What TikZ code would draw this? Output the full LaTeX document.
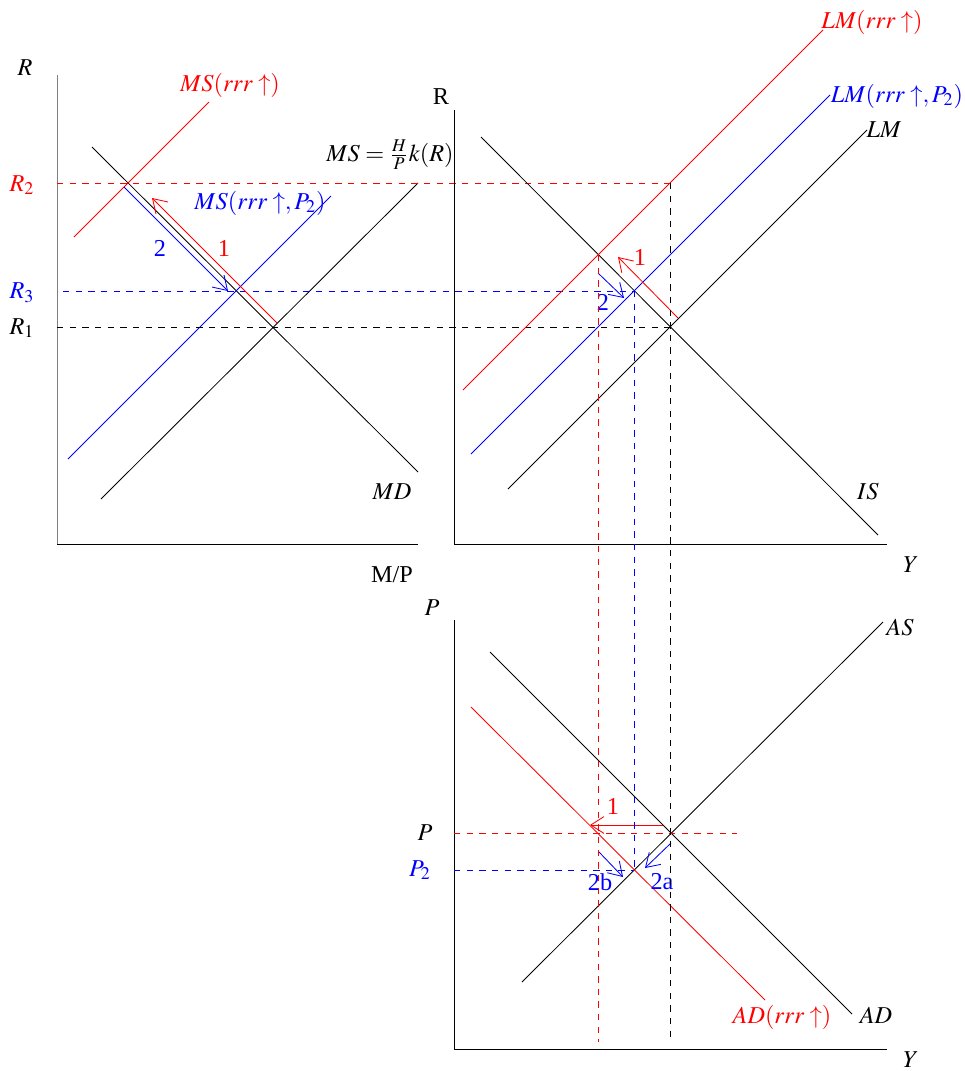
\documentclass[tikz,border=0pt]{standalone}
\usepackage{mathptmx}
\usepackage{fontspec}
\setmainfont{Liberation Serif}
\usetikzlibrary{calc, arrows.meta}

\begin{document}
\begin{tikzpicture}[
  x=0.16667cm, y=-0.16667cm,
  font=\fontsize{11.5}{14}\selectfont,
  guide/.style={dashed},
  move/.style={-{Straight Barb[length=2.2mm, width=2.8mm]}},
  lbl/.style={inner sep=0pt}
]
\useasboundingbox (0,0) rectangle (96.4,107.1);

% key points
\coordinate (E1) at (27.2,32.7);
\coordinate (E2) at (67.0,32.7);
\coordinate (R2a) at (5.7,18.3);
\coordinate (R2b) at (67.0,18.3);
\coordinate (R3a) at (6.3,29.1);
\coordinate (R3b) at (63.4,29.1);
\coordinate (R1a) at (5.7,32.7);
\coordinate (Eis1) at (59.8,25.5);
\coordinate (E3) at (67.0,83.3);
\coordinate (E4) at (63.4,87.0);

% money market
\draw[gray] (5.7,7.5) -- (5.7,54.4);
\draw (5.7,54.4) -- (41.8,54.4);
\node[lbl] (lR) at (2.5,6.8) {$R$};
\node[lbl] (lMP) at (39.2,57.5) {M/P};
\draw (9.2,14.7) -- (41.8,47.2);
\draw (10.1,49.9) -- (41.8,18.3);
\draw[red] (7.4,23.7) -- (20.9,10.2);
\draw[blue] (6.8,45.9) -- (33.1,19.6);
\node[lbl, red] (lMSr) at (23.0,8.5) {$MS(rrr\uparrow)$};
\node[lbl, blue] (lMSb) at (26.0,20.3) {$MS(rrr\uparrow,P_2)$};
\node[lbl] (lMS) at (39.0,15.5) {$MS=\frac{H}{P}k(R)$};
\node[lbl] (lMD) at (39.2,49.2) {$MD$};
\node[lbl, red] (lR2) at (2.2,18.5) {$R_2$};
\node[lbl, blue] (lR3) at (2.2,29.3) {$R_3$};
\node[lbl] (lR1) at (2.2,32.8) {$R_1$};
\draw[guide, red] (R2a) -- (R2b);
\draw[guide, blue] (R3a) -- (R3b);
\draw[guide] (R1a) -- (E2);
\draw[move, red] (27.7,32.3) -- (15.2,19.8);
\draw[move, blue] (12.4,18.7) -- (22.8,29.1);
\node[lbl, red] (l1a) at (22.4,24.8) {1};
\node[lbl, blue] (l2a) at (16.0,24.8) {2};

% IS-LM
\draw (45.4,11.0) -- (45.4,54.4) -- (88.7,54.4);
\node[lbl] (lRb) at (44.1,9.7) {R};
\node[lbl] (lY1) at (91.1,56.5) {$Y$};
\draw (48.1,13.7) -- (87.8,53.5);
\draw (50.8,48.9) -- (86.7,13.0);
\draw[blue] (47.1,45.4) -- (83.0,9.5);
\draw[red] (46.3,39.0) -- (82.3,3.0);
\node[lbl] (lIS) at (86.8,49.2) {$IS$};
\node[lbl] (lLM) at (88.4,13.0) {$LM$};
\node[lbl, blue] (lLMb) at (89.7,9.6) {$LM(rrr\uparrow,P_2)$};
\node[lbl, red] (lLMr) at (87.2,2.2) {$LM(rrr\uparrow)$};
\draw[move, red] (67.8,31.8) -- (61.8,25.7);
\draw[move, blue] (59.8,27.3) -- (62.4,29.8);
\node[lbl, red] (l1b) at (64.0,25.7) {1};
\node[lbl, blue] (l2b) at (60.3,30.2) {2};

% AS-AD
\draw (45.4,62.0) -- (45.4,104.9) -- (88.7,104.9);
\node[lbl] (lP) at (43.2,60.8) {$P$};
\node[lbl] (lY2) at (91.1,106.0) {$Y$};
\draw (52.2,98.2) -- (88.3,62.2);
\draw (49.0,65.2) -- (85.2,101.4);
\draw[red] (47.1,70.7) -- (76.5,100.0);
\node[lbl] (lAS) at (90.0,62.8) {$AS$};
\node[lbl] (lAD) at (87.6,101.5) {$AD$};
\node[lbl, red] (lADr) at (78.2,101.7) {$AD(rrr\uparrow)$};
\draw[guide, red] (45.4,83.3) -- (73.7,83.3);
\draw[guide, blue] (45.4,87.0) -- (E4);
\node[lbl] (lP1) at (42.5,83.3) {$P$};
\node[lbl, blue] (lP2) at (42.0,87.0) {$P_2$};
\draw[move, red] (66.3,82.5) -- (59.0,82.5);
\draw[move, blue] (59.9,85.2) -- (62.3,87.7);
\draw[move, blue] (67.1,84.3) -- (64.5,86.8);
\node[lbl, red] (l1c) at (61.3,80.6) {1};
\node[lbl, blue] (l2bb) at (60.0,88.2) {2b};
\node[lbl, blue] (l2aa) at (66.2,88.2) {2a};

% vertical guides
\draw[guide] (R2b) -- (67.0,104.2);
\draw[guide, red] (Eis1) -- (59.8,104.2);
\draw[guide, blue] (R3b) -- (E4);
\end{tikzpicture}
\end{document}
